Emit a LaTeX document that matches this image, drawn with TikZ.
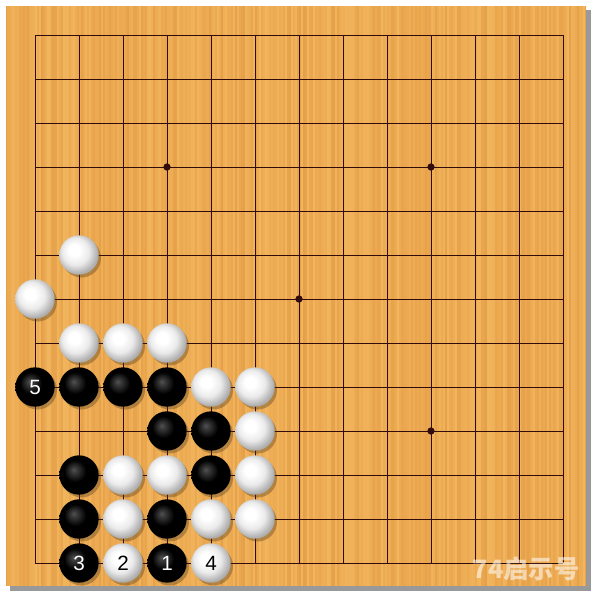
\documentclass[tikz,border=0pt]{standalone}
\usepackage{fontspec}
\setmainfont{Liberation Sans}
\newfontfamily\cjk{Noto Sans CJK SC}
\definecolor{wood}{RGB}{236,169,80}
\definecolor{woodlight}{RGB}{248,196,112}
\definecolor{wooddark}{RGB}{222,152,66}
\definecolor{gridc}{RGB}{50,12,12}
\pgfdeclareradialshading{blackstone}{\pgfpoint{-7bp}{7bp}}{color(0bp)=(black!68!white); color(4bp)=(black!78!white); color(14bp)=(black); color(50bp)=(black)}
\pgfdeclareradialshading{whitestone}{\pgfpoint{-7bp}{7bp}}{color(0bp)=(white); color(7bp)=(white); color(17bp)=(black!8); color(27bp)=(black!32); color(50bp)=(black!32)}
\tikzset{
  bst/.style={circle, minimum size=29.5pt, inner sep=0pt, shading=blackstone, text=white, font=\fontsize{15.5}{16}\selectfont},
  wst/.style={circle, minimum size=29.5pt, inner sep=0pt, shading=whitestone, text=black, font=\fontsize{15.5}{16}\selectfont},
  shadowc/.style={fill=black!70!wood, opacity=0.35},
  gridline/.style={draw=gridc, line width=0.75pt},
  star/.style={circle, fill=gridc, minimum size=5.5pt, inner sep=0pt}
}
\begin{document}
\begin{tikzpicture}[x=0.75pt,y=-0.75pt]
\useasboundingbox (0,0) rectangle (600,600);
\fill[white] (0,0) rectangle (600,600);
% board shadow
\fill[black!40] (10,10) rectangle (591,591);
\node[fill=wood, draw=none, minimum width=435pt, minimum height=435pt, inner sep=0pt, anchor=north west] (board) at (6,6) {};
\pgfmathsetseed{7}
\begin{scope}
\clip (6,6) rectangle (586,586);
\foreach \x in {6,8,...,586}{
  \pgfmathsetmacro\o{rnd*0.5}
  \pgfmathsetmacro\d{rnd}
  \ifdim\d pt>0.35pt
    \draw[woodlight, line width=0.8pt, opacity=\o] (\x,6) -- (\x,586);
  \else
    \draw[wooddark, line width=0.8pt, opacity=\o] (\x,6) -- (\x,586);
  \fi
}
\end{scope}
% grid
\foreach \i in {0,...,12}{
  \draw[gridline] (35+44*\i,35) -- (35+44*\i,563);
  \draw[gridline] (35,35+44*\i) -- (563,35+44*\i);
}
\foreach \c/\r [count=\k] in {3/3,9/3,6/6,9/9,3/9}{
  \node[star] (star\k) at (35+44*\c,35+44*\r) {};
}
% shadows
\foreach \c/\r in {1/5,0/6,1/7,2/7,3/7,4/8,5/8,5/9,2/10,3/10,5/10,2/11,4/11,5/11,2/12,4/12,0/8,1/8,2/8,3/8,3/9,4/9,1/10,4/10,1/11,3/11,1/12,3/12}{
  \fill[shadowc] (37.5+44*\c,38+44*\r) circle (19.5);
}
% white stones
\foreach \c/\r/\t in {1/5/,0/6/,1/7/,2/7/,3/7/,4/8/,5/8/,5/9/,2/10/,3/10/,5/10/,2/11/,4/11/,5/11/,2/12/2,4/12/4}{
  \node[wst] (w-\c-\r) at (35+44*\c,35+44*\r) {\t};
}
% black stones
\foreach \c/\r/\t in {0/8/5,1/8/,2/8/,3/8/,3/9/,4/9/,1/10/,4/10/,1/11/,3/11/,1/12/3,3/12/1}{
  \node[bst] (b-\c-\r) at (35+44*\c,35+44*\r) {\t};
}
% watermark
\node[text=white, opacity=0.55, font=\cjk\bfseries\fontsize{19}{20}\selectfont] (wm) at (526,569) {74启示号};
\end{tikzpicture}
\end{document}
